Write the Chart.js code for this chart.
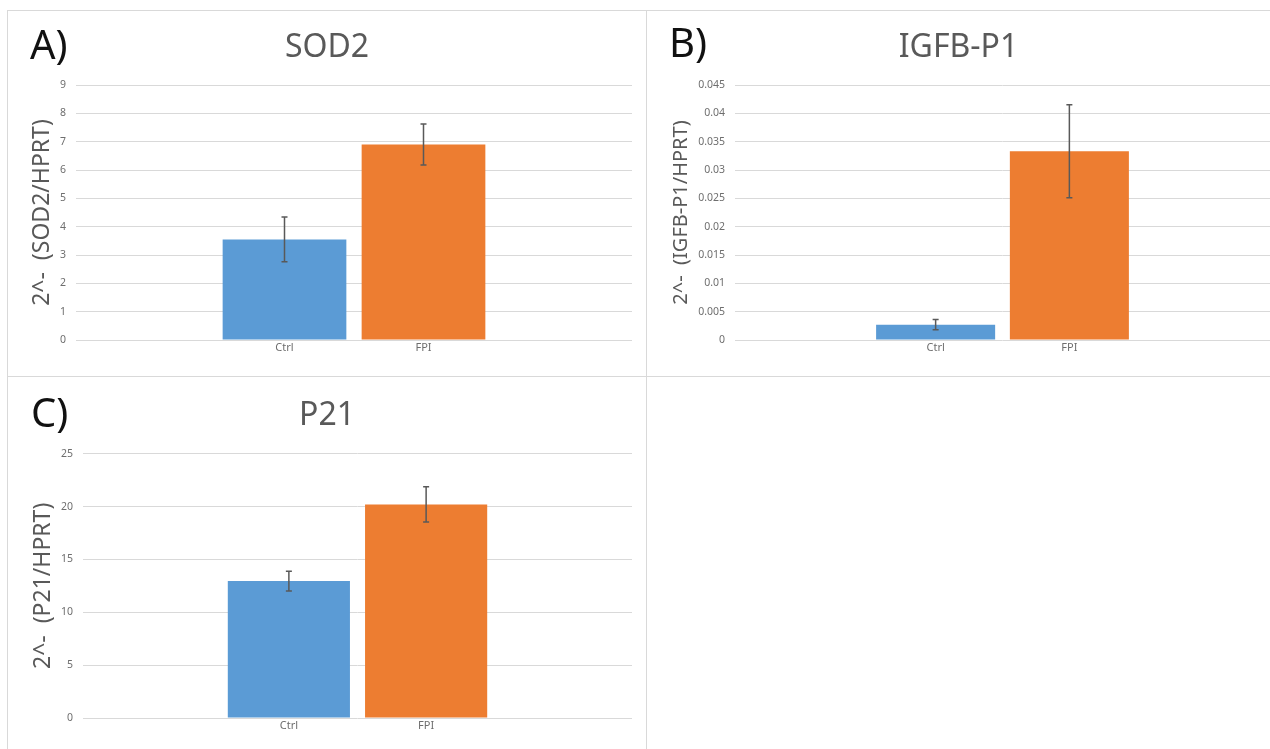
<!DOCTYPE html>
<html>
<head>
<meta charset="utf-8">
<script src="https://cdn.jsdelivr.net/npm/chart.js@4.4.1/dist/chart.umd.min.js"></script>
<style>
  body { margin: 0; background: #fff; width: 1270px; height: 749px; overflow: hidden; position: relative; font-family: 'Noto Sans', sans-serif; }
  .panel { position: absolute; box-sizing: border-box; border: 1px solid #d9d9d9; }
  .tag { position: absolute; font-size: 40px; line-height: 40px; color: #111; }
  canvas { position: absolute; }
</style>
</head>
<body>
<div class="panel" style="left:7px;top:10px;width:640px;height:367px"></div>
<div class="panel" style="left:646px;top:10px;width:630px;height:367px"></div>
<div class="panel" style="left:7px;top:376px;width:640px;height:380px"></div>
<canvas id="sodChart" width="638" height="365" style="left:8px;top:11px"></canvas>
<canvas id="igfChart" width="623" height="365" style="left:647px;top:11px"></canvas>
<canvas id="p21Chart" width="638" height="372" style="left:8px;top:377px"></canvas>
<div class="tag" style="left:30px;top:24px">A)</div>
<div class="tag" style="left:669px;top:22px">B)</div>
<div class="tag" style="left:31px;top:392px">C)</div>
<script>
const groups = ['', 'Ctrl', 'FPI', ''];
const barColors = [null, '#5B9BD5', '#ED7D31', null];

const sodMean = [null, 3.55, 6.9, null];
const sodErr = [null, 0.79, 0.72, null];
const sodTicks = [0, 1, 2, 3, 4, 5, 6, 7, 8, 9];

const igfMean = [null, 0.0027, 0.0333, null];
const igfErr = [null, 0.0009, 0.0082, null];
const igfTicks = [0, 0.005, 0.01, 0.015, 0.02, 0.025, 0.03, 0.035, 0.04, 0.045];

const p21Mean = [null, 12.95, 20.2, null];
const p21Err = [null, 0.93, 1.67, null];
const p21Ticks = [0, 5, 10, 15, 20, 25];

// draws the +/- error whiskers on top of each bar
const errorBars = {
  id: 'errorBars',
  afterDatasetsDraw(chart) {
    const { ctx } = chart;
    const y = chart.scales.y;
    const ds = chart.data.datasets[0];
    const meta = chart.getDatasetMeta(0);
    ctx.save();
    ctx.strokeStyle = '#595959';
    ctx.lineWidth = 1.5;
    meta.data.forEach((bar, i) => {
      const v = ds.data[i];
      const e = ds.errors[i];
      if (v == null || e == null) return;
      const top = y.getPixelForValue(v + e);
      const bot = y.getPixelForValue(v - e);
      ctx.beginPath();
      ctx.moveTo(bar.x, top); ctx.lineTo(bar.x, bot);
      ctx.moveTo(bar.x - 3, top); ctx.lineTo(bar.x + 3, top);
      ctx.moveTo(bar.x - 3, bot); ctx.lineTo(bar.x + 3, bot);
      ctx.stroke();
    });
    ctx.restore();
  }
};

function makeChart(id, cfg) {
  return new Chart(document.getElementById(id), {
    type: 'bar',
    data: {
      labels: groups,
      datasets: [{
        data: cfg.mean,
        errors: cfg.err,
        backgroundColor: barColors,
        barPercentage: 0.89,
        categoryPercentage: 1
      }]
    },
    options: {
      responsive: false,
      animation: false,
      layout: { padding: 0 },
      plugins: {
        legend: { display: false },
        tooltip: { enabled: false },
        title: {
          display: true,
          text: cfg.title,
          color: '#595959',
          font: { family: 'Noto Sans', size: 32, weight: 'normal' },
          padding: cfg.titlePad
        }
      },
      scales: {
        x: {
          grid: { display: false, drawTicks: false },
          border: { display: false },
          ticks: { color: '#6e6e6e', font: { family: 'Noto Sans', size: 11 }, padding: 1, autoSkip: false, maxRotation: 0 },
          afterFit: s => { s.height = cfg.xHeight; }
        },
        y: {
          min: 0,
          max: cfg.ticks[cfg.ticks.length - 1],
          grid: { color: '#d9d9d9', drawTicks: false },
          border: { display: false },
          ticks: { color: '#6e6e6e', font: { family: 'Noto Sans', size: 10.5 }, padding: 10, callback: v => String(v) },
          afterBuildTicks: s => { s.ticks = cfg.ticks.map(v => ({ value: v })); },
          afterFit: s => { s.width = cfg.yWidth; },
          title: {
            display: true,
            text: cfg.yTitle,
            color: '#595959',
            font: { family: 'Noto Sans', size: cfg.yTitleSize },
            padding: { top: cfg.yTitlePad, bottom: 0 }
          }
        },
        // empty spacer on the right so the title stays centred on the panel
        spacer: {
          position: 'right',
          grid: { display: false, drawTicks: false },
          border: { display: false },
          ticks: { display: false },
          afterFit: s => { s.width = cfg.padRight; }
        }
      }
    },
    plugins: [errorBars]
  });
}

makeChart('sodChart', {
  mean: sodMean, err: sodErr, ticks: sodTicks,
  title: 'SOD2', yTitle: '2^-  (SOD2/HPRT)', yTitleSize: 23,
  padRight: 14, yWidth: 68, xHeight: 36, yTitlePad: 21,
  titlePad: { top: 18, bottom: 17.6 }
});

makeChart('igfChart', {
  mean: igfMean, err: igfErr, ticks: igfTicks,
  title: 'IGFB-P1', yTitle: '2^-  (IGFB-P1/HPRT)', yTitleSize: 20,
  padRight: 0, yWidth: 88, xHeight: 36, yTitlePad: 22,
  titlePad: { top: 18, bottom: 17.6 }
});

makeChart('p21Chart', {
  mean: p21Mean, err: p21Err, ticks: p21Ticks,
  title: 'P21', yTitle: '2^-  (P21/HPRT)', yTitleSize: 23,
  padRight: 14, yWidth: 75, xHeight: 31, yTitlePad: 22,
  titlePad: { top: 20, bottom: 18.3 }
});
</script>
</body>
</html>
